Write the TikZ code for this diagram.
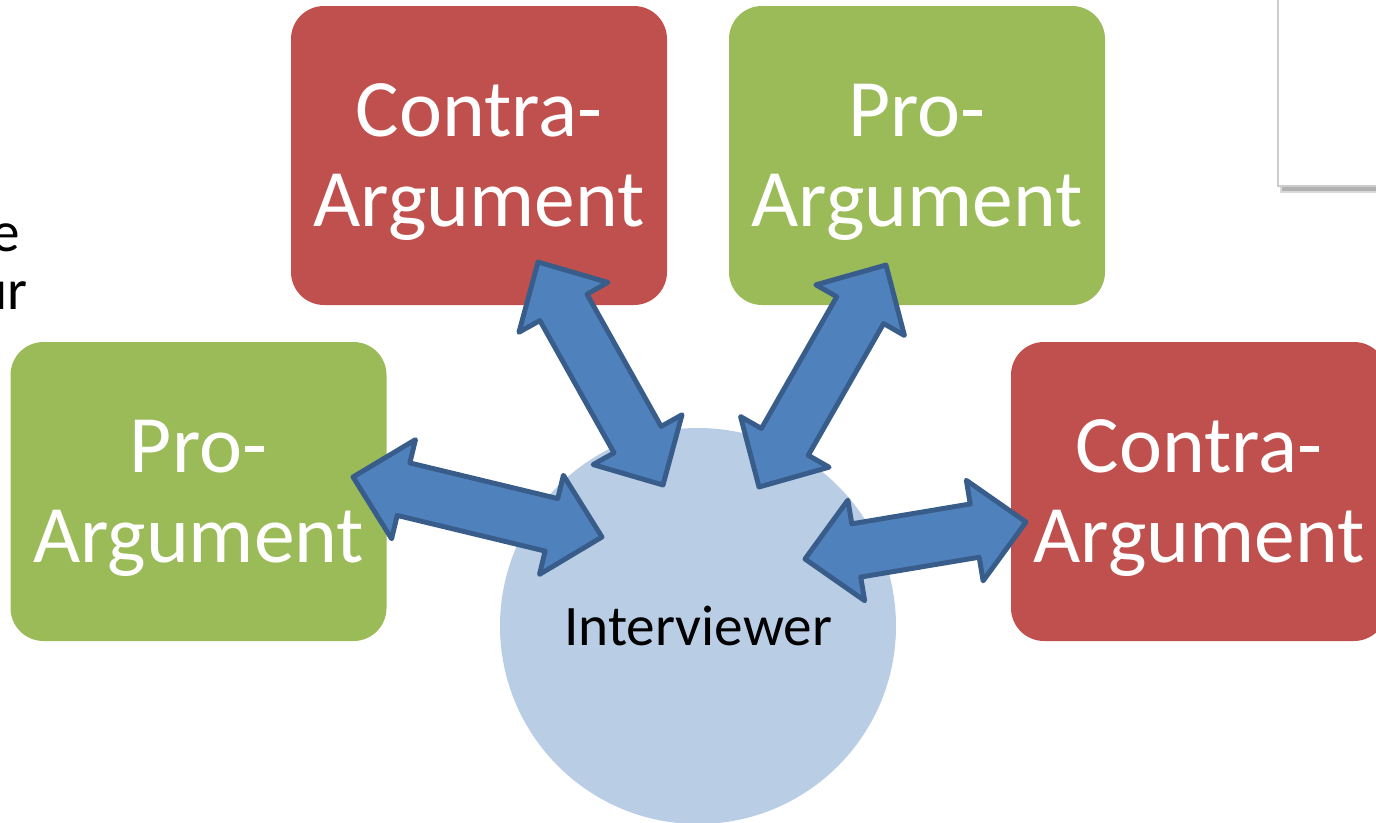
\documentclass[tikz,border=0pt]{standalone}
\usepackage{fontspec}
\setmainfont{Carlito}
\usetikzlibrary{calc}
\definecolor{contraRed}{HTML}{C0504D}
\definecolor{proGreen}{HTML}{9BBB59}
\definecolor{roundBlue}{HTML}{B9CDE5}
\definecolor{arrowBlue}{HTML}{4F81BD}
\definecolor{arrowLine}{HTML}{385D8A}
% block arrow with a head at both ends, from #1 to #2
\newcommand{\dblarrow}[2]{%
	\draw[link] (#1)
		-- ($(#1)!0.52cm!(#2)!0.51cm!90:(#2)$)
		-- ($(#1)!0.52cm!(#2)!0.27cm!90:(#2)$)
		-- ($(#2)!0.52cm!(#1)!0.27cm!-90:(#1)$)
		-- ($(#2)!0.52cm!(#1)!0.51cm!-90:(#1)$)
		-- (#2)
		-- ($(#2)!0.52cm!(#1)!0.51cm!90:(#1)$)
		-- ($(#2)!0.52cm!(#1)!0.27cm!90:(#1)$)
		-- ($(#1)!0.52cm!(#2)!0.27cm!-90:(#2)$)
		-- ($(#1)!0.52cm!(#2)!0.51cm!-90:(#2)$)
		-- cycle;}
\begin{document}
\begin{tikzpicture}
	\tikzstyle{box}=[rectangle,rounded corners=0.33cm,minimum width=3.76cm,minimum height=2.99cm,inner sep=0pt,text depth=0pt,text=white,align=center,font=\fontsize{23.2}{25.6}\selectfont]
	\tikzstyle{contra}=[box,fill=contraRed]
	\tikzstyle{pro}=[box,fill=proGreen]
	\tikzstyle{person}=[circle,fill=roundBlue,minimum size=3.96cm,inner sep=0pt,font=\fontsize{16.3}{19.6}\selectfont]
	\tikzstyle{side}=[anchor=base east,inner sep=0pt,font=\fontsize{16.3}{19.6}\selectfont]
	\tikzstyle{link}=[fill=arrowBlue,draw=arrowLine,line width=1.4pt,line join=round]
	\useasboundingbox (0,0) rectangle (13.76,-8.22);
	\clip (0,0) rectangle (13.76,-8.22);

	% slide text cut off at the left
	\node[side] (T1) at (0.21,-2.51) {e};
	\node[side] (T2) at (0.28,-3.09) {ur};

	% slide element cut off at the top right
	\fill[black!15] (12.80,0.1) rectangle (14,-1.93);
	\fill[black!30] (12.82,0.1) rectangle (14,-1.91);
	\draw[fill=white,draw=black!20,line width=0.4pt] (12.78,0.1) rectangle (14,-1.86);

	\node[person] (I) at (6.98,-6.26) {Interviewer};
	\node[contra] (C1) at (4.79,-1.555) {Contra-\\Argument};
	\node[pro] (P1) at (9.17,-1.555) {Pro-\\Argument};
	\node[pro] (P2) at (1.985,-4.915) {Pro-\\Argument};
	\node[contra] (C2) at (11.99,-4.915) {Contra-\\Argument};

	\coordinate (A1) at (3.53,-4.77);
	\coordinate (B1) at (6.02,-5.37);
	\coordinate (A2) at (5.38,-2.62);
	\coordinate (B2) at (6.63,-4.85);
	\coordinate (A3) at (8.86,-2.65);
	\coordinate (B3) at (7.59,-4.87);
	\coordinate (A4) at (8.05,-5.59);
	\coordinate (B4) at (10.26,-5.22);

	\dblarrow{A1}{B1}
	\dblarrow{A2}{B2}
	\dblarrow{A3}{B3}
	\dblarrow{A4}{B4}
\end{tikzpicture}
\end{document}
